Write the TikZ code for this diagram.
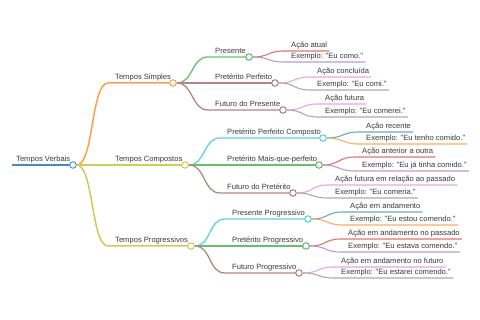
\documentclass[tikz,border=0pt]{standalone}
\usepackage{fontspec}
\newfontfamily\mmfont{Liberation Sans}
\definecolor{cA}{HTML}{1F77B4}
\definecolor{cB}{HTML}{FF7F0E}
\definecolor{cC}{HTML}{2CA02C}
\definecolor{cD}{HTML}{D62728}
\definecolor{cE}{HTML}{9467BD}
\definecolor{cF}{HTML}{8C564B}
\definecolor{cG}{HTML}{E377C2}
\definecolor{cH}{HTML}{7F7F7F}
\definecolor{cI}{HTML}{BCBD22}
\definecolor{cJ}{HTML}{17BECF}
\definecolor{txt}{HTML}{3A3A3A}
\tikzset{
  lbl/.style={font=\mmfont\fontsize{7.6}{9}\selectfont, text=txt, inner sep=0pt, anchor=base west},
  dot/.style={circle, draw=#1!75!white, fill=white, line width=1pt, minimum size=6.5pt, inner sep=0pt},
  linkA/.style={draw=#1!75!white, line width=1.5pt},
  linkB/.style={draw=#1!70!white, line width=1.3pt},
  linkC/.style={draw=#1!65!white, line width=1.1pt},
}
% #1 parent, #2 name, #3 colour, #4 text left, #5 y, #6 circle x, #7 text, #8 link style
\newcommand\mmbranch[8]{%
  \node[lbl] (#2-t) at (#4,#5-3) {#7};
  \coordinate (#2-l) at (#4-7,#5);
  \coordinate (#2-r) at (#6-3,#5);
  \draw[#8=#3] (#1.east) .. controls +(17,0) and +(-17,0) .. (#2-l) -- (#2-r);
  \node[dot=#3] (#2) at (#6,#5) {};
}
% #1 parent, #2 name, #3 colour, #4 text left, #5 y, #6 text
\newcommand\mmleaf[6]{%
  \node[lbl] (#2) at (#4,#5-3) {#6};
  \coordinate (#2-l) at (#4-7,#5);
  \draw[linkC=#3] (#1.east) .. controls +(17,0) and +(-17,0) .. (#2-l) -- (#2-l -| #2.east) -- ++(2,0);
}
\newcommand\qq{\char34\relax}
\begin{document}
\begin{tikzpicture}[x=1pt,y=-1pt]
\useasboundingbox (0,0) rectangle (480,320);
\fill[white] (0,0) rectangle (480,320);
% root
\node[lbl] (root-t) at (16,162) {Tempos Verbais};
\coordinate (root-l) at (12,165);
\coordinate (root-r) at (70,165);
\draw[draw=cA!85!white, line width=1.8pt] (root-l) -- (root-r);
\node[dot=cA] (root) at (73,165) {};
% level 1
\mmbranch{root}{simp}{cB}{115}{83}{173}{Tempos Simples}{linkA}
\mmbranch{root}{comp}{cI}{115}{165}{185}{Tempos Compostos}{linkA}
\mmbranch{root}{prog}{cI}{115}{246}{191}{Tempos Progressivos}{linkA}
% level 2
\mmbranch{simp}{pres}{cC}{215}{57}{249}{Presente}{linkB}
\mmbranch{simp}{pperf}{cF}{215}{83}{275}{Pretérito Perfeito}{linkB}
\mmbranch{simp}{fpres}{cF}{215}{110}{283}{Futuro do Presente}{linkB}
\mmbranch{comp}{ppc}{cJ}{227}{138}{323}{Pretérito Perfeito Composto}{linkB}
\mmbranch{comp}{mqp}{cC}{227}{165}{319}{Pretérito Mais-que-perfeito}{linkB}
\mmbranch{comp}{fpret}{cF}{227}{193}{293}{Futuro do Pretérito}{linkB}
\mmbranch{prog}{presp}{cJ}{232}{219}{308}{Presente Progressivo}{linkB}
\mmbranch{prog}{pretp}{cC}{232}{246}{306}{Pretérito Progressivo}{linkB}
\mmbranch{prog}{futp}{cF}{232}{273}{299}{Futuro Progressivo}{linkB}
% leaves
\mmleaf{pres}{a1}{cD}{291}{51}{Ação atual}
\mmleaf{pres}{a2}{cE}{291}{62}{Exemplo: \qq Eu como.\qq}
\mmleaf{pperf}{a3}{cG}{317}{77}{Ação concluída}
\mmleaf{pperf}{a4}{cH}{317}{90}{Exemplo: \qq Eu comi.\qq}
\mmleaf{fpres}{a5}{cG}{325}{104}{Ação futura}
\mmleaf{fpres}{a6}{cH}{325}{117}{Exemplo: \qq Eu comerei.\qq}
\mmleaf{ppc}{a7}{cA}{366}{132}{Ação recente}
\mmleaf{ppc}{a8}{cB}{366}{144}{Exemplo: \qq Eu tenho comido.\qq}
\mmleaf{mqp}{a9}{cD}{362}{157}{Ação anterior a outra}
\mmleaf{mqp}{a10}{cE}{362}{171}{Exemplo: \qq Eu já tinha comido.\qq}
\mmleaf{fpret}{a11}{cG}{335}{185}{Ação futura em relação ao passado}
\mmleaf{fpret}{a12}{cH}{335}{198}{Exemplo: \qq Eu comeria.\qq}
\mmleaf{presp}{a13}{cA}{350}{212}{Ação em andamento}
\mmleaf{presp}{a14}{cB}{350}{225}{Exemplo: \qq Eu estou comendo.\qq}
\mmleaf{pretp}{a15}{cD}{348}{239}{Ação em andamento no passado}
\mmleaf{pretp}{a16}{cE}{348}{252}{Exemplo: \qq Eu estava comendo.\qq}
\mmleaf{futp}{a17}{cG}{341}{267}{Ação em andamento no futuro}
\mmleaf{futp}{a18}{cH}{341}{278}{Exemplo: \qq Eu estarei comendo.\qq}
\end{tikzpicture}
\end{document}
